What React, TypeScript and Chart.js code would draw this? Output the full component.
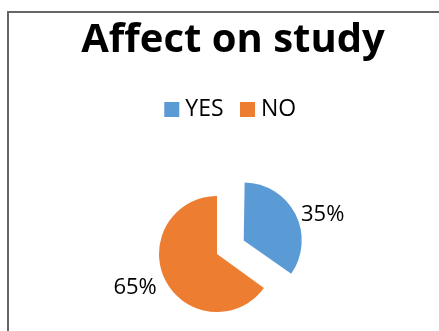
import React, { useEffect, useRef } from "react";
import { Chart, registerables } from "chart.js";

Chart.register(...registerables);

const title = "Affect on study";
const categories = ["YES", "NO"];
const values = [35, 65];
const colors = ["#5B9BD5", "#ED7D31"];
const explode = [120, 0];

const FONT = "'Open Sans', 'DejaVu Sans', sans-serif";

const framePlugin = {
  id: "frame",
  beforeDraw(chart: any) {
    const ctx = chart.ctx;
    ctx.save();
    ctx.fillStyle = "#ffffff";
    ctx.fillRect(0, 0, chart.width, chart.height);
    ctx.fillStyle = "#666666";
    ctx.fillRect(7, 11, chart.width - 7, 2);
    ctx.fillRect(7, 11, 2, chart.height - 11);
    ctx.restore();
  },
};

const placePlugin = {
  id: "placePie",
  afterLayout(chart: any) {
    const a = chart.chartArea;
    const cx = 217;
    const cy = 254;
    const half = 73;
    a.left = cx - half;
    a.right = cx + half;
    a.top = cy - half;
    a.bottom = cy + half;
    a.width = half * 2;
    a.height = half * 2;
  },
  // keep exploded slices at the same radius as the others
  afterDatasetsUpdate(chart: any) {
    const meta = chart.getDatasetMeta(0);
    meta.data.forEach((arc: any) => {
      const off = (arc.options.offset || 0) / 4;
      if (!off) return;
      const fix = 1 - Math.sin(Math.min(Math.PI, arc.circumference || 0));
      arc.outerRadius = arc.outerRadius - off * fix;
    });
  },
};

const labelPlugin = {
  id: "pctLabels",
  afterDatasetsDraw(chart: any) {
    const ctx = chart.ctx;
    const meta = chart.getDatasetMeta(0);
    const data = chart.data.datasets[0].data as number[];
    const total = data.reduce((s, v) => s + v, 0);
    ctx.save();
    ctx.font = `22px ${FONT}`;
    ctx.fillStyle = "#000000";
    ctx.textBaseline = "middle";
    meta.data.forEach((arc: any, i: number) => {
      const p = arc.getProps(["x", "y", "startAngle", "endAngle"], true);
      const mid = (p.startAngle + p.endAngle) / 2;
      const off = (arc.options.offset || 0) / 4;
      const cx = p.x + Math.cos(mid) * off;
      const cy = p.y + Math.sin(mid) * off;
      const r = chart.options.radius + 4;
      const ax = cx + Math.cos(mid) * r;
      const ay = cy + Math.sin(mid) * r;
      const right = Math.cos(mid) >= 0;
      ctx.textAlign = right ? "left" : "right";
      const txt = Math.round((data[i] / total) * 100) + "%";
      ctx.fillText(txt, ax + (right ? 2 : -5), ay + (right ? 3 : 6));
    });
    ctx.restore();
  },
};

export default function App() {
  const ref = useRef<HTMLCanvasElement | null>(null);
  useEffect(() => {
    if (!ref.current) return;
    const chart = new Chart(ref.current, {
      type: "pie",
      data: {
        labels: categories,
        datasets: [
          {
            data: values,
            backgroundColor: colors,
            borderWidth: 0,
            offset: explode,
          },
        ],
      },
      options: {
        animation: false,
        responsive: false,
        maintainAspectRatio: false,
        radius: 58,
        layout: { padding: { left: 27, right: 0, top: 0, bottom: 0 } },
        plugins: {
          title: {
            display: true,
            text: title,
            color: "#000000",
            font: { family: FONT, size: 40, weight: "bold", lineHeight: 1.2 },
            padding: { top: 17, bottom: 11 },
          },
          legend: {
            display: true,
            position: "top",
            labels: {
              usePointStyle: true,
              pointStyle: "rect",
              boxWidth: 4,
              boxHeight: 15,
              padding: 22,
              color: "#000000",
              font: { family: FONT, size: 23 },
            },
          },
          tooltip: { enabled: false },
        },
      },
      plugins: [framePlugin, placePlugin, labelPlugin],
    });
    return () => chart.destroy();
  }, []);
  return (
    <div style={{ position: "fixed", left: 0, top: 0, width: 439, height: 331, background: "#fff" }}>
      <canvas ref={ref} width={439} height={331} style={{ display: "block", width: 439, height: 331 }} />
    </div>
  );
}
